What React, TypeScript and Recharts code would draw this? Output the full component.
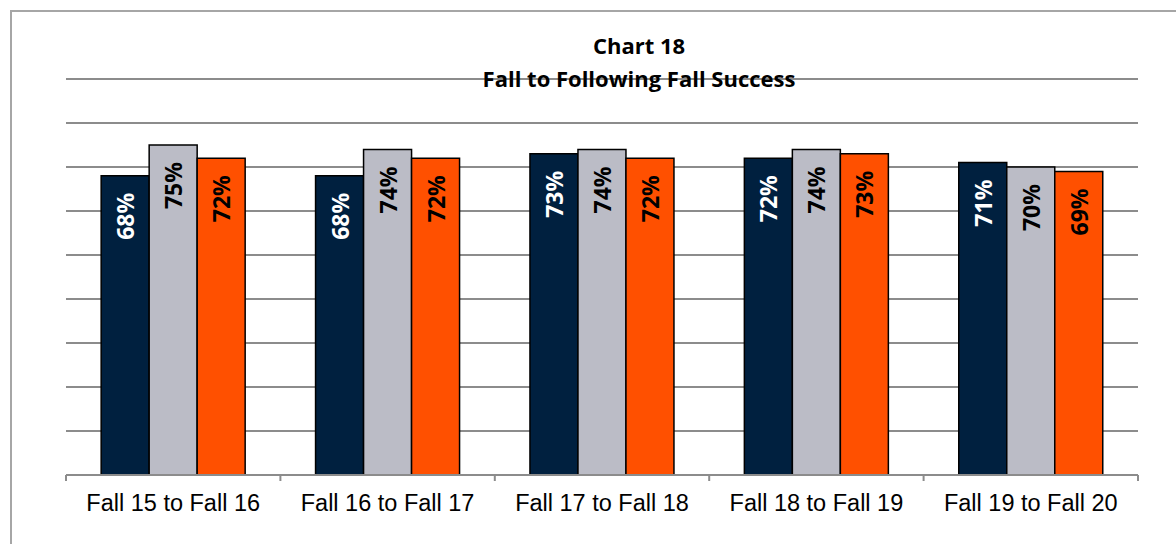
import { Bar, BarChart, CartesianGrid, LabelList, XAxis, YAxis } from "recharts";

const categories = [
  "Fall 15 to Fall 16",
  "Fall 16 to Fall 17",
  "Fall 17 to Fall 18",
  "Fall 18 to Fall 19",
  "Fall 19 to Fall 20",
];
const seriesA = [0.68, 0.68, 0.73, 0.72, 0.71];
const seriesB = [0.75, 0.74, 0.74, 0.74, 0.7];
const seriesC = [0.72, 0.72, 0.72, 0.73, 0.69];
const yTicks = [0, 0.1, 0.2, 0.3, 0.4, 0.5, 0.6, 0.7, 0.8, 0.9];

const data = categories.map((name, i) => ({
  name,
  a: seriesA[i],
  b: seriesB[i],
  c: seriesC[i],
}));

const W = 1176;
const H = 544;
const AXIS_H = 30;
const margin = { top: 79, right: 38, bottom: 69 - AXIS_H, left: 66 };
const step = (W - margin.left - margin.right) / categories.length;

const barLabel = (color: string) => (props: any) => {
  const { x, y, width, value } = props;
  const cx = x + width / 2;
  const ty = y + 17;
  return (
    <text
      x={cx}
      y={ty}
      transform={`rotate(-90 ${cx} ${ty})`}
      textAnchor="end"
      dominantBaseline="central"
      fill={color}
      fontFamily="'Open Sans', sans-serif"
      fontWeight={700}
      fontSize={23}
    >
      {Math.round(value * 100)}%
    </text>
  );
};

const CategoryTick = (props: any) => {
  const { x, y, payload, index } = props;
  const left = x - step / 2;
  return (
    <g>
      <line x1={left} y1={y} x2={left} y2={y + 6} stroke="#8c8c8c" strokeWidth={2} />
      {index === categories.length - 1 && (
        <line x1={x + step / 2} y1={y} x2={x + step / 2} y2={y + 6} stroke="#8c8c8c" strokeWidth={2} />
      )}
      <text
        x={x}
        y={y + 28}
        textAnchor="middle"
        dominantBaseline="central"
        fill="#000"
        fontFamily="'Liberation Sans', Arial, sans-serif"
        fontSize={23.5}
      >
        {payload.value}
      </text>
    </g>
  );
};

export default function App() {
  return (
    <div style={{ position: "absolute", left: 0, top: 0, width: W, height: H, background: "#fff", overflow: "hidden" }}>
      <div
        style={{
          position: "absolute",
          left: 10,
          top: 10,
          width: W,
          height: H,
          borderLeft: "2px solid #a6a6a6",
          borderTop: "2px solid #a6a6a6",
        }}
      />
      <BarChart
        width={W}
        height={H}
        data={data}
        margin={margin}
        barCategoryGap="16.4%"
        barGap={0}
      >
        <CartesianGrid vertical={false} stroke="#8c8c8c" strokeWidth={2} />
        <YAxis hide domain={[0, 0.9]} ticks={yTicks} />
        <XAxis
          dataKey="name"
          height={AXIS_H}
          axisLine={{ stroke: "#8c8c8c", strokeWidth: 2 }}
          tickLine={false}
          tickSize={0}
          tickMargin={0}
          interval={0}
          tick={<CategoryTick />}
        />
        <Bar dataKey="a" fill="#00203f" stroke="#000" strokeWidth={1.5} isAnimationActive={false}>
          <LabelList dataKey="a" content={barLabel("#fff")} />
        </Bar>
        <Bar dataKey="b" fill="#bbbcc6" stroke="#000" strokeWidth={1.5} isAnimationActive={false}>
          <LabelList dataKey="b" content={barLabel("#000")} />
        </Bar>
        <Bar dataKey="c" fill="#ff5000" stroke="#000" strokeWidth={1.5} isAnimationActive={false}>
          <LabelList dataKey="c" content={barLabel("#000")} />
        </Bar>
      </BarChart>
      <div
        style={{
          position: "absolute",
          left: 639,
          top: 29,
          transform: "translateX(-50%)",
          whiteSpace: "nowrap",
          textAlign: "center",
          fontFamily: "'Open Sans', sans-serif",
          fontWeight: 700,
          fontSize: 22,
          lineHeight: "33px",
          color: "#000",
        }}
      >
        Chart 18
        <br />
        Fall to Following Fall Success
      </div>
    </div>
  );
}
